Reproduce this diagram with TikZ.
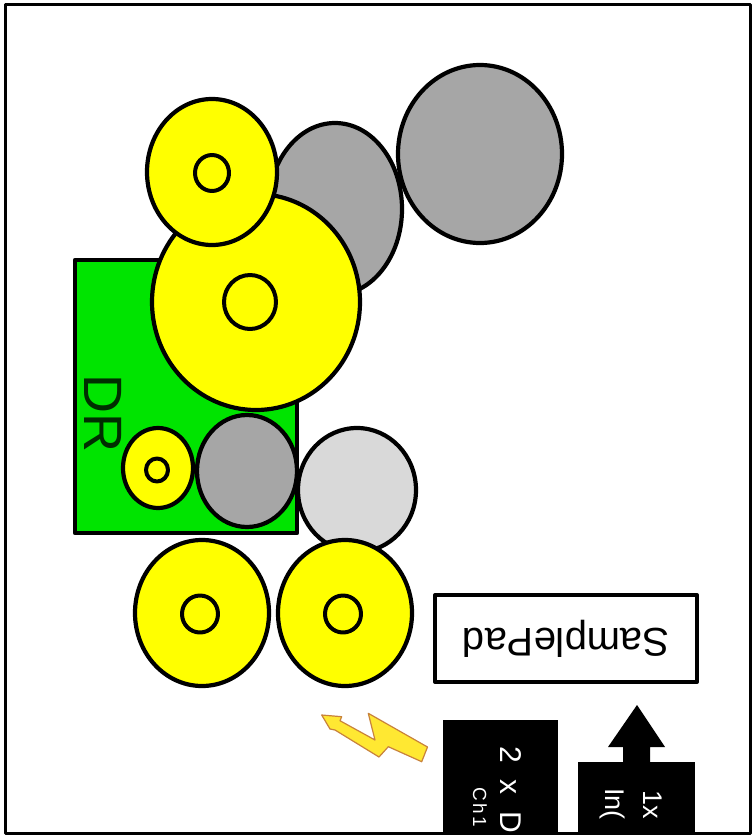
\documentclass[tikz,border=0pt]{standalone}
\usepackage{fontspec}
\setmainfont{Liberation Sans}
\newfontfamily\widesans[WordSpace=2]{Liberation Sans}
\newfontfamily\spacedsans[LetterSpace=12]{Liberation Sans}
\definecolor{padyellow}{RGB}{255,255,0}
\definecolor{padgray}{RGB}{166,166,166}
\definecolor{padlight}{RGB}{217,217,217}
\definecolor{padgreen}{RGB}{0,228,0}
\definecolor{drtext}{RGB}{0,45,0}
\definecolor{boltfill}{RGB}{255,232,50}
\definecolor{boltline}{RGB}{200,130,60}
\begin{document}
\begin{tikzpicture}[x=1bp,y=-1bp,line join=round,
  outl/.style={draw=black,line width=4.2bp},
  ydisc/.style={outl,fill=padyellow},
  gdisc/.style={outl,fill=padgray},
  ldisc/.style={outl,fill=padlight},
  hole/.style={draw=black,line width=4bp},
  vlabel/.style={rotate=-90,anchor=base west,inner sep=0pt,text=white}]
\useasboundingbox (0,0) rectangle (755,836);
\fill[white] (0,0) rectangle (755,836);
% green DR board
\draw[outl,fill=padgreen] (75,260) rectangle (297,533);
% grey toms / cymbals
\draw[gdisc] (335,209) ellipse [x radius=67,y radius=86];
\draw[gdisc] (480,154) ellipse [x radius=82,y radius=89];
% large yellow pad
\draw[ydisc] (256,302) ellipse [x radius=104,y radius=108];
\draw[hole] (250,302) ellipse [x radius=26,y radius=27];
% small top yellow pad
\draw[ydisc] (212,172) ellipse [x radius=65,y radius=73];
\draw[hole] (212,173) ellipse [x radius=17,y radius=18];
% pads inside board
\draw[gdisc] (247,471) ellipse [x radius=50,y radius=56];
\draw[ydisc] (158,468) ellipse [x radius=35,y radius=40];
\draw[hole] (157,470) ellipse [x radius=11,y radius=11.5];
% light grey
\draw[ldisc] (357,490) ellipse [x radius=59,y radius=62];
% bottom yellow pads
\draw[ydisc] (202,613) ellipse [x radius=67,y radius=73];
\draw[hole] (200,614) ellipse [x radius=18,y radius=18.5];
\draw[ydisc] (345,613) ellipse [x radius=67,y radius=73];
\draw[hole] (343,614) ellipse [x radius=18,y radius=18.5];
% DR label
\node[rotate=-90,anchor=base west,inner sep=0pt,text=drtext,
  font=\fontsize{54bp}{60bp}\selectfont] (dr) at (84,374) {DR};
% SamplePad box
\node[draw=black,line width=4bp,fill=white,minimum width=262bp,minimum height=87bp,
  rotate=180,font=\fontsize{40bp}{46bp}\selectfont] (pad) at (566,638.5) {SamplePad};
% lightning bolt
\draw[fill=boltfill,draw=boltline,line width=1.2bp]
  (321.7,715) -- (341.7,716.7) -- (340,720.7) -- (375,740) -- (368.3,713.3)
  -- (427.5,747) -- (421.7,761.7) -- (388.3,746.7) -- (379,757)
  -- (335,730) -- (330,729) -- cycle;
% black boxes clipped by frame
\begin{scope}
  \clip (5,4) rectangle (750,833);
  \fill[black] (443,720) rectangle (558,850);
  \fill[black] (578,762) rectangle (695,850);
  \fill[black] (623,763) -- (623,747) -- (608,747) -- (637,705) -- (665,747)
    -- (650,747) -- (650,763) -- cycle;
  \node[vlabel,font=\widesans\fontsize{30bp}{34bp}\selectfont] (dd) at (500,746) {2 x D};
  \node[vlabel,font=\spacedsans\fontsize{19bp}{22bp}\selectfont] (ch) at (473,787) {Ch1};
  \node[vlabel,font=\fontsize{27bp}{30bp}\selectfont] (onex) at (643,790) {1x};
  \node[vlabel,font=\fontsize{27bp}{30bp}\selectfont] (inn) at (605,788) {In(};
\end{scope}
% frame
\draw[black,line width=3bp] (5,4) rectangle (750,833);
\end{tikzpicture}
\end{document}
